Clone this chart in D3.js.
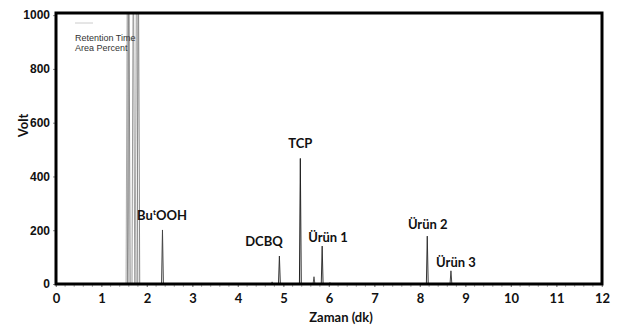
<!DOCTYPE html>
<html>
<head>
<meta charset="utf-8">
<script src="https://cdn.jsdelivr.net/npm/d3@7"></script>
<style>
  body { margin: 0; background: #fff; }
  svg { display: block; }
</style>
</head>
<body>
<div id="chart"></div>
<script>
// peaks: retention time (min) and height (Volt)
var peakTimes   = [1.57, 1.60, 1.70, 1.77, 1.81, 2.34, 4.75, 4.91, 5.37, 5.67, 5.85, 6.02, 8.16, 8.68];
var peakHeights = [1300, 1300, 1300, 1300, 1250, 201, 8, 104, 467, 27, 141, 6, 178, 49];
var peakColors  = ["#aaa", "#888", "#999", "#aaa", "#888", "#444", "#666", "#333", "#222", "#555", "#333", "#777", "#333", "#444"];
var labelNames  = ["Bu|t|OOH", "DCBQ", "TCP", "Ürün 1", "Ürün 2", "Ürün 3"];
var labelTimes  = [2.33, 4.57, 5.37, 5.98, 8.17, 8.79];
var labelValues = [237, 140, 505, 158, 203, 63];
var xTicks = [0, 1, 2, 3, 4, 5, 6, 7, 8, 9, 10, 11, 12];
var yTicks = [0, 200, 400, 600, 800, 1000];

const margin = { top: 13, right: 17, bottom: 43, left: 56 },
  width = 619 - margin.left - margin.right,
  height = 327 - margin.top - margin.bottom;

var svg = d3
  .select("#chart")
  .append("svg")
  .attr("width", 619)
  .attr("height", 327)
  .append("g")
  .attr("transform", `translate(${margin.left},${margin.top})`);

const x = d3.scaleLinear().domain([0, 12]).range([0, width]);
const y = d3.scaleLinear().domain([0, 1008]).range([height, 0]);

svg.append("defs").append("clipPath").attr("id", "clip")
  .append("rect").attr("width", width).attr("height", height);

// minor ticks on x axis
svg.append("g")
  .selectAll("line")
  .data(d3.range(0, 12.01, 0.2))
  .join("line")
  .attr("x1", (d) => x(d)).attr("x2", (d) => x(d))
  .attr("y1", height).attr("y2", height + 3)
  .attr("stroke", "#999").attr("stroke-width", 0.8);

// y axis ticks + labels
var yAxis = svg.append("g")
  .call(d3.axisLeft(y).tickValues(yTicks).tickFormat(d3.format("d")).tickSize(3).tickPadding(3));
yAxis.select(".domain").remove();
yAxis.selectAll("line").attr("stroke", "#888");
yAxis.selectAll("text")
  .style("font-family", "'Liberation Sans', Arial, sans-serif")
  .style("font-weight", "bold")
  .style("font-size", "12px")
  .attr("fill", "#111");

// x axis labels
var xAxis = svg.append("g")
  .attr("transform", `translate(0,${height})`)
  .call(d3.axisBottom(x).tickValues(xTicks).tickSize(3).tickPadding(7));
xAxis.select(".domain").remove();
xAxis.selectAll("line").attr("stroke", "#888");
xAxis.selectAll("text")
  .style("font-family", "Lato, 'Open Sans', sans-serif")
  .style("font-weight", "bold")
  .style("font-size", "13px")
  .attr("fill", "#111");

// chromatogram peaks
svg.append("g").attr("clip-path", "url(#clip)")
  .selectAll("path")
  .data(peakTimes)
  .join("path")
  .attr("d", function (d, i) {
    var w = peakHeights[i] > 900 ? 0.03 : 0.02;
    return d3.line()([[x(d - w), y(0)], [x(d), y(peakHeights[i])], [x(d + w), y(0)]]);
  })
  .attr("fill", "none")
  .attr("stroke", (d, i) => peakColors[i])
  .attr("stroke-width", 1);

// retention time legend text
svg.append("line")
  .attr("x1", 19).attr("x2", 37).attr("y1", 10).attr("y2", 10)
  .attr("stroke", "#ccc").attr("stroke-width", 1);
svg.append("text")
  .attr("x", 19).attr("y", 28)
  .style("font-family", "'Liberation Sans', Arial, sans-serif")
  .style("font-size", "9px")
  .attr("fill", "#333")
  .text("Retention Time");
svg.append("text")
  .attr("x", 19).attr("y", 38)
  .style("font-family", "'Liberation Sans', Arial, sans-serif")
  .style("font-size", "9px")
  .attr("fill", "#333")
  .text("Area Percent");

// peak labels
var lbl = svg.append("g")
  .selectAll("text")
  .data(labelNames)
  .join("text")
  .attr("x", (d, i) => x(labelTimes[i]))
  .attr("y", (d, i) => y(labelValues[i]))
  .attr("text-anchor", "middle")
  .style("font-family", "Lato, 'Open Sans', sans-serif")
  .style("font-weight", "bold")
  .style("font-size", "13px")
  .attr("fill", "#111");
lbl.each(function (d) {
  var parts = d.split("|");
  var t = d3.select(this);
  if (parts.length == 1) {
    t.text(d);
  } else {
    t.append("tspan").text(parts[0]);
    t.append("tspan").attr("dy", -5).style("font-size", "8px").text(parts[1]);
    t.append("tspan").attr("dy", 5).text(parts[2]);
  }
});

// frame
svg.append("rect")
  .attr("x", 0).attr("y", 0)
  .attr("width", width).attr("height", height)
  .attr("fill", "none")
  .attr("stroke", "#000")
  .attr("stroke-width", 3);

// axis titles
svg.append("text")
  .attr("x", width / 2 + 12).attr("y", height + 38)
  .attr("text-anchor", "middle")
  .style("font-family", "Lato, 'Open Sans', sans-serif")
  .style("font-weight", "bold")
  .style("font-size", "13px")
  .attr("fill", "#111")
  .text("Zaman (dk)");
svg.append("text")
  .attr("transform", `translate(-28,${y(590)})rotate(-90)`)
  .attr("text-anchor", "middle")
  .style("font-family", "Lato, 'Open Sans', sans-serif")
  .style("font-weight", "bold")
  .style("font-size", "13px")
  .attr("fill", "#111")
  .text("Volt");
</script>
</body>
</html>
